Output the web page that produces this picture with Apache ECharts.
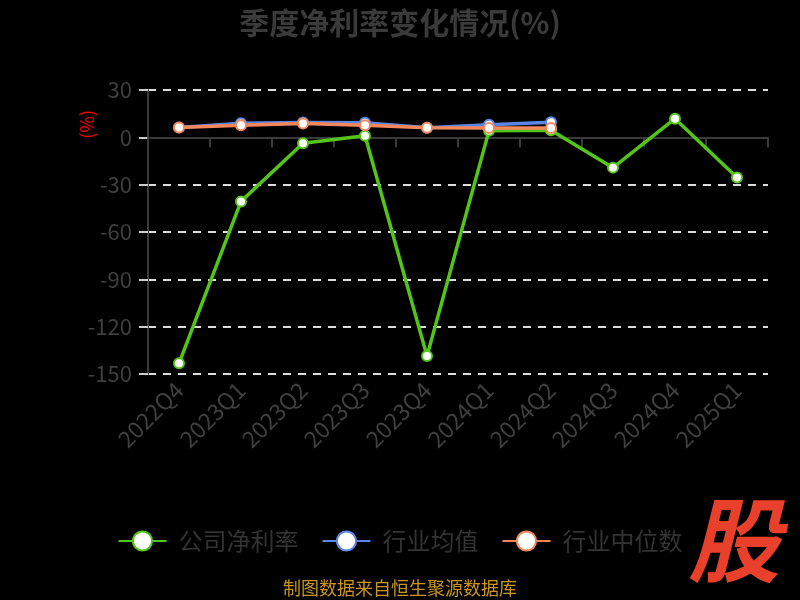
<!DOCTYPE html>
<html>
<head>
<meta charset="utf-8">
<script src="https://cdn.jsdelivr.net/npm/echarts@6/dist/echarts.min.js"></script>
<style>html,body{margin:0;padding:0;background:#000;}#c{width:800px;height:600px;}</style>
</head>
<body>
<div id="c"></div>
<script>
var categories = ['2022Q4','2023Q1','2023Q2','2023Q3','2023Q4','2024Q1','2024Q2','2024Q3','2024Q4','2025Q1'];
var companyMargin = [-143.2, -40.6, -3.8, 1.0, -138.6, 4.1, 4.5, -19.2, 11.8, -25.5];
var industryMean = [6.2, 9.0, 9.4, 9.3, 6.0, 8.0, 9.6, null, null, null];
var industryMedian = [6.2, 7.6, 8.7, 7.6, 6.1, 5.9, 5.9, null, null, null];
var yTicks = {min: -150, max: 30, interval: 30};

var chart = echarts.init(document.getElementById('c'));
var labelFont = 'Noto Sans CJK SC, Noto Sans, sans-serif';
function lineSeries(name, data, color) {
  return {
    name: name, type: 'line', data: data, xAxisIndex: 0,
    symbol: 'emptyCircle', symbolSize: 10, showAllSymbol: true,
    lineStyle: {color: color, width: 3.5},
    itemStyle: {color: color, borderColor: color, borderWidth: 2},
    label: {show: false},
    emphasis: {disabled: true}
  };
}
chart.setOption({
  backgroundColor: '#000',
  animation: false,
  title: {text: '季度净利率变化情况(%)', left: 'center', top: 3,
    textStyle: {color: '#3a3a3a', fontSize: 30, fontWeight: 'bold', fontFamily: labelFont}},
  grid: {left: 148, right: 32, top: 90, bottom: 226},
  legend: {
    top: 524, left: 'center', itemWidth: 48, itemHeight: 24, itemGap: 23,
    lineStyle: {width: 2},
    textStyle: {color: '#333', fontSize: 24, fontFamily: labelFont, padding: [0, 0, 0, 7]},
    data: ['公司净利率', '行业均值', '行业中位数']
  },
  xAxis: [{
    type: 'category', data: categories, boundaryGap: true,
    axisLine: {onZero: true, lineStyle: {color: '#3a3a3a', width: 2}},
    axisTick: {show: true, length: 10, lineStyle: {color: '#3a3a3a', width: 2}},
    axisLabel: {show: false}, splitLine: {show: false}
  }, {
    type: 'category', data: categories, boundaryGap: true, position: 'bottom',
    axisLine: {show: false, onZero: false}, axisTick: {show: false}, splitLine: {show: false},
    axisLabel: {show: true, rotate: 45, margin: 12, color: '#3f3f3f', fontSize: 23, fontFamily: labelFont}
  }],
  yAxis: {
    type: 'value', min: yTicks.min, max: yTicks.max, interval: yTicks.interval,
    axisLine: {show: true, lineStyle: {color: '#3a3a3a', width: 2}},
    axisTick: {show: true, length: 9, lineStyle: {color: '#cccccc', width: 2}},
    axisLabel: {color: '#3f3f3f', fontSize: 22, margin: 16, fontFamily: labelFont},
    splitLine: {show: true, lineStyle: {color: '#dddddd', width: 2, type: [8, 7]}}
  },
  graphic: [
    {type: 'text', left: 78, top: 110, rotation: Math.PI / 2,
      style: {text: '(%)', fill: '#ff0000', fontSize: 18, fontFamily: labelFont}},
    {type: 'text', left: 'center', top: 579, style: {text: '制图数据来自恒生聚源数据库', fill: '#c8961e', fontSize: 18, fontFamily: labelFont}},
    {type: 'text', left: 688, top: 494, style: {text: '股', fill: '#e8402a', fontSize: 92, fontWeight: 'bold', fontStyle: 'italic', fontFamily: labelFont}}
  ],
  series: [
    lineSeries('公司净利率', companyMargin, '#52c41a'),
    lineSeries('行业均值', industryMean, '#5b86e5'),
    lineSeries('行业中位数', industryMedian, '#f5875a')
  ]
});
</script>
</body>
</html>
